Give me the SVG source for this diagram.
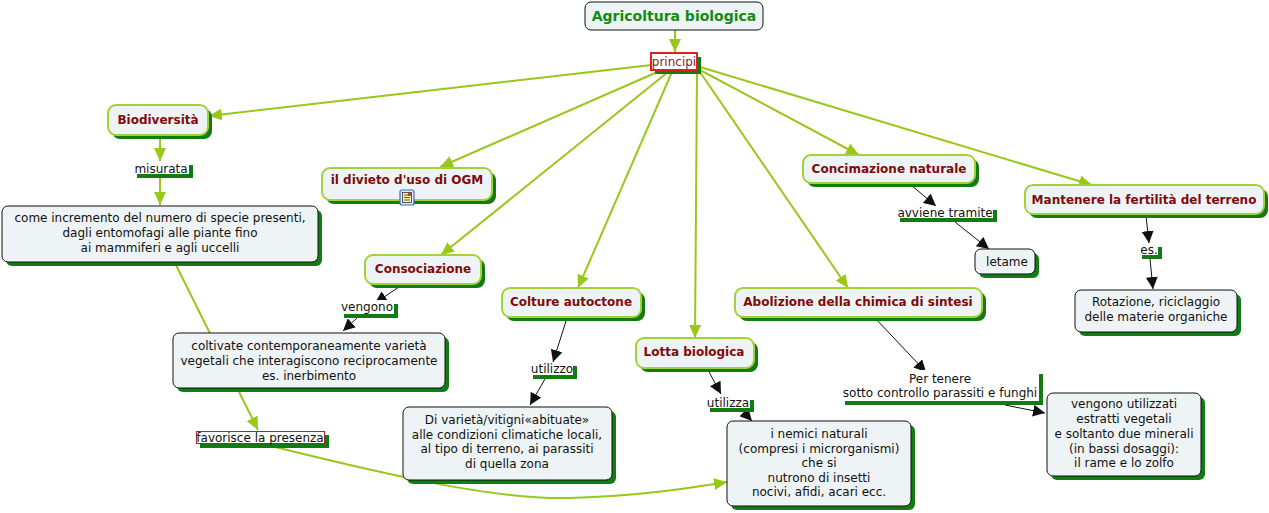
<svg xmlns="http://www.w3.org/2000/svg" width="1269" height="513" viewBox="0 0 1269 513">
<style>
text{font-family:"DejaVu Sans","Verdana",sans-serif;font-size:12px;fill:#111;text-anchor:middle}
.t{font-weight:bold;fill:#7f0a0a;font-size:12px}
.root{font-weight:bold;fill:#138a13;font-size:14px}
.nb{fill:#eef4f5;stroke:#a3d13a;stroke-width:2}
.bb{fill:#eef4f5;stroke:#111;stroke-width:1}
.sh{fill:#117c11}
.lb{fill:#fff}
.g{stroke:#99c71a;stroke-width:2;fill:none}
.k{stroke:#111;stroke-width:1;fill:none}
</style>
<defs>
<marker id="ag" markerUnits="userSpaceOnUse" markerWidth="14" markerHeight="12" refX="13" refY="6" orient="auto"><path d="M0,0 L13,6 L0,12 z" fill="#99c71a"/></marker>
<marker id="ak" markerUnits="userSpaceOnUse" markerWidth="13" markerHeight="12" refX="12" refY="6" orient="auto"><path d="M0,0 L12,6 L0,12 z" fill="#111"/></marker>
</defs>
<rect width="1269" height="513" fill="#fff"/>
<g id="connectors">
<line class="g" x1="675" y1="30" x2="675" y2="52" marker-end="url(#ag)"/>
<line class="g" x1="660" y1="64" x2="209" y2="116" marker-end="url(#ag)"/>
<line class="g" x1="662" y1="70" x2="440" y2="167" marker-end="url(#ag)"/>
<line class="g" x1="668" y1="72" x2="441" y2="255" marker-end="url(#ag)"/>
<line class="g" x1="672" y1="72" x2="578" y2="288" marker-end="url(#ag)"/>
<line class="g" x1="697" y1="72" x2="695" y2="338" marker-end="url(#ag)"/>
<line class="g" x1="700" y1="72" x2="848" y2="288" marker-end="url(#ag)"/>
<line class="g" x1="700" y1="70" x2="859" y2="155" marker-end="url(#ag)"/>
<line class="g" x1="700" y1="67" x2="1092" y2="185" marker-end="url(#ag)"/>
<line class="g" x1="160" y1="136" x2="160" y2="161" marker-end="url(#ag)"/>
<line class="g" x1="160" y1="178" x2="160" y2="205" marker-end="url(#ag)"/>
<line class="g" x1="175" y1="263" x2="258" y2="430" marker-end="url(#ag)"/>
<path class="g" d="M275,447 C400,478 500,500 570,498 C640,496 690,488 727,482" marker-end="url(#ag)"/>
<line class="k" x1="402" y1="285" x2="375" y2="303" marker-end="url(#ak)"/>
<line class="k" x1="358" y1="317" x2="343" y2="331" marker-end="url(#ak)"/>
<line class="k" x1="567" y1="318" x2="553" y2="362" marker-end="url(#ak)"/>
<line class="k" x1="545" y1="379" x2="530" y2="405" marker-end="url(#ak)"/>
<line class="k" x1="708" y1="370" x2="721" y2="394" marker-end="url(#ak)"/>
<line class="k" x1="741" y1="409" x2="752" y2="421" marker-end="url(#ak)"/>
<line class="k" x1="875" y1="318" x2="926" y2="372" marker-end="url(#ak)"/>
<line class="k" x1="1005" y1="405" x2="1045" y2="413" marker-end="url(#ak)"/>
<line class="k" x1="911" y1="185" x2="936" y2="206" marker-end="url(#ak)"/>
<line class="k" x1="955" y1="222" x2="989" y2="249" marker-end="url(#ak)"/>
<line class="k" x1="1146" y1="216" x2="1149" y2="243" marker-end="url(#ak)"/>
<line class="k" x1="1150" y1="259" x2="1153" y2="289" marker-end="url(#ak)"/>
</g>
<g id="root"><rect class="bb" x="585" y="2" width="178" height="28" rx="6"/><text class="root" x="674" y="21">Agricoltura biologica</text></g>
<g id="principi"><rect class="sh" x="655" y="57" width="46" height="17"/><rect x="651" y="53" width="46" height="17" fill="#fff" stroke="#e02020" stroke-width="2"/><text x="674" y="66" style="fill:#8b1a1a">principi</text></g>
<g id="biodiversita"><rect class="sh" x="112" y="109" width="100" height="30" rx="8"/><rect class="nb" x="108" y="105" width="100" height="30" rx="8"/><text class="t" x="158" y="124">Biodiversità</text></g>
<g id="misurata"><rect class="sh" x="137" y="165" width="56" height="13"/><rect class="lb" x="133" y="161" width="56" height="13"/><text x="161" y="173">misurata</text></g>
<g id="incremento"><rect class="sh" x="6" y="210" width="316" height="56" rx="6"/><rect class="bb" x="2" y="206" width="316" height="56" rx="6"/><text x="160" y="222">come incremento del numero di specie presenti,</text><text x="160" y="237">dagli entomofagi alle piante fino</text><text x="160" y="252">ai mammiferi e agli uccelli</text></g>
<g id="ogm"><rect class="sh" x="326" y="172" width="170" height="32" rx="8"/><rect class="nb" x="322" y="168" width="170" height="32" rx="8"/><text class="t" x="407" y="184">il divieto d'uso di OGM</text>
<rect x="400" y="190" width="14" height="15" rx="2" fill="#dde8f8" stroke="#3a6fc0" stroke-width="1.2"/><rect x="402.5" y="192.5" width="9" height="10" fill="#fbf3a0" stroke="#333" stroke-width="0.8"/><line x1="404" y1="195" x2="408" y2="195" stroke="#333" stroke-width="0.8"/><line x1="404" y1="197.5" x2="410" y2="197.5" stroke="#333" stroke-width="0.8"/><line x1="404" y1="200" x2="410" y2="200" stroke="#333" stroke-width="0.8"/><rect x="408" y="193" width="3" height="3" fill="#c04040"/></g>
<g id="consociazione"><rect class="sh" x="369" y="259" width="116" height="29" rx="8"/><rect class="nb" x="365" y="255" width="116" height="29" rx="8"/><text class="t" x="423" y="273">Consociazione</text></g>
<g id="vengono"><rect class="sh" x="344" y="304" width="54" height="14"/><rect class="lb" x="340" y="300" width="54" height="14"/><text x="367" y="311">vengono</text></g>
<g id="coltivate"><rect class="sh" x="177" y="337" width="272" height="55" rx="6"/><rect class="bb" x="173" y="333" width="272" height="55" rx="6"/><text x="309" y="350">coltivate contemporaneamente varietà</text><text x="309" y="365">vegetali che interagiscono reciprocamente</text><text x="309" y="380">es. inerbimento</text></g>
<g id="favorisce"><rect class="sh" x="200" y="435" width="129" height="13"/><rect x="196.5" y="431.5" width="128" height="12" fill="#fff" stroke="#b22222" stroke-width="1"/><text x="260" y="442">favorisce la presenza</text></g>
<g id="colture"><rect class="sh" x="506" y="292" width="139" height="29" rx="8"/><rect class="nb" x="502" y="288" width="139" height="29" rx="8"/><text class="t" x="571" y="306">Colture autoctone</text></g>
<g id="utilizzo"><rect class="sh" x="533" y="366" width="44" height="13"/><rect class="lb" x="529" y="362" width="44" height="13"/><text x="552" y="373">utilizzo</text></g>
<g id="varieta"><rect class="sh" x="407" y="411" width="209" height="73" rx="6"/><rect class="bb" x="403" y="407" width="209" height="73" rx="6"/><text x="507" y="424">Di varietà/vitigni«abituate»</text><text x="507" y="439">alle condizioni climatiche locali,</text><text x="507" y="453">al tipo di terreno, ai parassiti</text><text x="507" y="468">di quella zona</text></g>
<g id="lotta"><rect class="sh" x="640" y="342" width="118" height="30" rx="8"/><rect class="nb" x="636" y="338" width="118" height="30" rx="8"/><text class="t" x="694" y="356">Lotta biologica</text></g>
<g id="utilizza"><rect class="sh" x="710" y="400" width="44" height="12"/><rect class="lb" x="706" y="396" width="44" height="12"/><text x="728" y="407">utilizza</text></g>
<g id="nemici"><rect class="sh" x="731" y="425" width="184" height="85" rx="6"/><rect class="bb" x="727" y="421" width="184" height="85" rx="6"/><text x="819" y="438">i nemici naturali</text><text x="819" y="453">(compresi i microrganismi)</text><text x="819" y="467">che si</text><text x="819" y="482">nutrono di insetti</text><text x="819" y="496">nocivi, afidi, acari ecc.</text></g>
<g id="abolizione"><rect class="sh" x="739" y="292" width="247" height="29" rx="8"/><rect class="nb" x="735" y="288" width="247" height="29" rx="8"/><text class="t" x="858" y="306">Abolizione della chimica di sintesi</text></g>
<g id="pertenere"><rect class="sh" x="845" y="374" width="198" height="31"/><rect class="lb" x="841" y="370" width="198" height="31"/><text x="940" y="383">Per tenere</text><text x="940" y="397">sotto controllo parassiti e funghi</text></g>
<g id="utilizzati"><rect class="sh" x="1051" y="397" width="154" height="83" rx="6"/><rect class="bb" x="1047" y="393" width="154" height="83" rx="6"/><text x="1124" y="408">vengono utilizzati</text><text x="1124" y="423">estratti vegetali</text><text x="1124" y="438">e soltanto due minerali</text><text x="1124" y="453">(in bassi dosaggi):</text><text x="1124" y="467">il rame e lo zolfo</text></g>
<g id="concimazione"><rect class="sh" x="807" y="159" width="172" height="28" rx="8"/><rect class="nb" x="803" y="155" width="172" height="28" rx="8"/><text class="t" x="889" y="173">Concimazione naturale</text></g>
<g id="avviene"><rect class="sh" x="900" y="210" width="97" height="12"/><rect class="lb" x="896" y="206" width="97" height="12"/><text x="945" y="217">avviene tramite</text></g>
<g id="letame"><rect class="sh" x="979" y="253" width="60" height="25" rx="6"/><rect class="bb" x="975" y="249" width="60" height="25" rx="6"/><text x="1007" y="266">letame</text></g>
<g id="mantenere"><rect class="sh" x="1029" y="189" width="239" height="29" rx="8"/><rect class="nb" x="1025" y="185" width="239" height="29" rx="8"/><text class="t" x="1144" y="204">Mantenere la fertilità del terreno</text></g>
<g id="es"><rect class="sh" x="1142" y="247" width="20" height="12"/><rect class="lb" x="1138" y="243" width="20" height="12"/><text x="1149" y="254">es.</text></g>
<g id="rotazione"><rect class="sh" x="1079" y="294" width="162" height="42" rx="6"/><rect class="bb" x="1075" y="290" width="162" height="42" rx="6"/><text x="1156" y="306">Rotazione, riciclaggio</text><text x="1156" y="321">delle materie organiche</text></g>
</svg>
